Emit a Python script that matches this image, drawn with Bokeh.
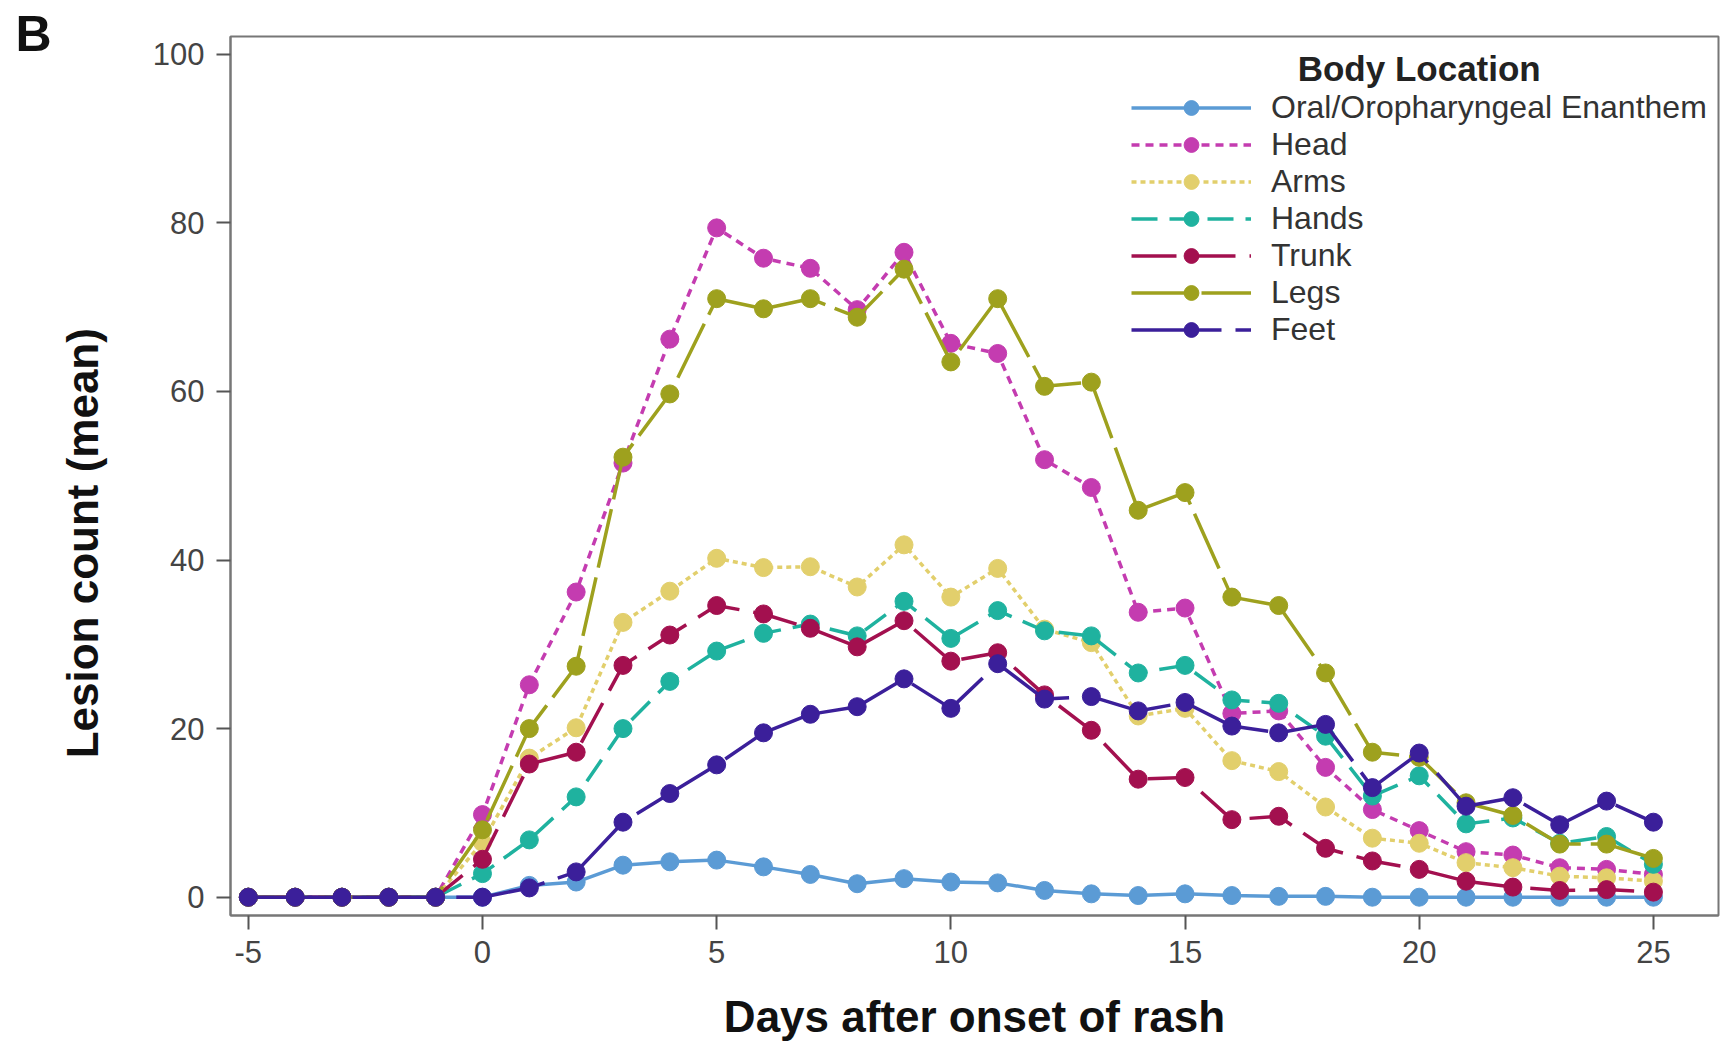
from bokeh.plotting import figure
from bokeh.models import Range1d, FixedTicker, Legend, LegendItem, Label
from bokeh.embed import file_html
from bokeh.resources import INLINE

days = list(range(-5, 26))

oral = [0, 0, 0, 0, 0, 0, 1.4, 1.8, 3.8, 4.2, 4.4, 3.6, 2.7, 1.6, 2.2, 1.8, 1.7, 0.8, 0.4, 0.2, 0.4,
        0.2, 0.1, 0.1, 0, 0, 0, 0, 0, 0, 0]
head = [0, 0, 0, 0, 0, 9.8, 25.2, 36.2, 51.5, 66.2, 79.4, 75.8, 74.6, 69.7, 76.5, 65.7, 64.5, 51.9, 48.6,
        33.8, 34.3, 21.8, 22.1, 15.4, 10.4, 7.9, 5.4, 5.0, 3.5, 3.3, 2.7]
arms = [0, 0, 0, 0, 0, 6.5, 16.5, 20.1, 32.6, 36.3, 40.2, 39.1, 39.2, 36.8, 41.8, 35.6, 39.0, 31.8, 30.2,
        21.5, 22.4, 16.2, 14.9, 10.7, 7.0, 6.4, 4.1, 3.5, 2.5, 2.3, 1.9]
hands = [0, 0, 0, 0, 0, 2.8, 6.8, 11.9, 20.0, 25.6, 29.2, 31.3, 32.4, 31.0, 35.1, 30.7, 34.0, 31.6, 31.0,
         26.6, 27.5, 23.4, 23.0, 19.1, 12.0, 14.4, 8.7, 9.4, 6.4, 7.2, 3.9]
trunk = [0, 0, 0, 0, 0, 4.5, 15.8, 17.2, 27.5, 31.1, 34.6, 33.6, 31.9, 29.7, 32.8, 28.0, 29.0, 24.0, 19.8,
         14.0, 14.2, 9.2, 9.6, 5.8, 4.3, 3.3, 1.9, 1.2, 0.8, 0.9, 0.6]
legs = [0, 0, 0, 0, 0, 8.0, 20.0, 27.4, 52.2, 59.7, 71.0, 69.8, 71.0, 68.8, 74.5, 63.5, 71.0, 60.6, 61.1,
        45.9, 48.0, 35.6, 34.6, 26.6, 17.2, 16.6, 11.2, 9.7, 6.3, 6.3, 4.6]
feet = [0, 0, 0, 0, 0, 0, 1.1, 3.0, 8.9, 12.3, 15.7, 19.5, 21.7, 22.6, 25.9, 22.4, 27.7, 23.5, 23.8,
        22.1, 23.1, 20.3, 19.5, 20.5, 13.0, 17.1, 10.8, 11.8, 8.6, 11.4, 8.9]

series_names = ["Oral/Oropharyngeal Enanthem", "Head", "Arms", "Hands", "Trunk", "Legs", "Feet"]
series_values = [oral, head, arms, hands, trunk, legs, feet]
colors = ["#5b9bd5", "#c43cb0", "#e2cf6c", "#1fb29f", "#a3104f", "#9ea11e", "#3b1f9a"]
dashes = ["solid", "8 6", "5 4", "26 12", "45 14", "60 10", "90 14"]

x_ticks = [-5, 0, 5, 10, 15, 20, 25]
y_ticks = [0, 20, 40, 60, 80, 100]

p = figure(width=1721, height=1043, output_backend="svg", toolbar_location=None,
           x_range=Range1d(-5.38, 26.39), y_range=Range1d(-2.17, 102.1),
           min_border_left=230, min_border_right=3, min_border_top=36, min_border_bottom=128)

p.title.text = "B"
p.title.align = "left"
p.title.offset = -215
p.title.standoff = -50
p.title.text_font = "Liberation Sans"
p.title.text_font_style = "bold"
p.title.text_font_size = "50px"
p.title.text_color = "#111111"

p.xgrid.visible = False
p.ygrid.visible = False
p.outline_line_color = "#777777"
p.outline_line_width = 2

p.xaxis.ticker = FixedTicker(ticks=x_ticks)
p.yaxis.ticker = FixedTicker(ticks=y_ticks)
p.xaxis.major_label_overrides = {t: str(t) for t in x_ticks}
for ax in (p.xaxis[0], p.yaxis[0]):
    ax.minor_tick_line_color = None
    ax.major_tick_in = 0
    ax.major_tick_out = 14
    ax.major_tick_line_color = "#555555"
    ax.major_tick_line_width = 2
    ax.axis_line_color = "#777777"
    ax.axis_line_width = 2
    ax.major_label_text_font = "Liberation Sans"
    ax.major_label_text_font_size = "31px"
    ax.major_label_text_color = "#444444"
    ax.axis_label_text_font = "Liberation Sans"
    ax.axis_label_text_font_style = "bold"
    ax.axis_label_text_font_size = "44px"
    ax.axis_label_text_color = "#111111"

p.xaxis.axis_label = "Days after onset of rash"
# trailing no-break spaces shift the rotated label downward, as in the original
p.yaxis.axis_label = "Lesion count (mean)" + "\u00a0" * 11
p.xaxis.major_label_standoff = 11
p.yaxis.major_label_standoff = 12
p.xaxis.axis_label_standoff = 26
p.yaxis.axis_label_standoff = 43

items = []
for name, vals, col, dash in zip(series_names, series_values, colors, dashes):
    lr = p.line(days, vals, line_color=col, line_width=3.5, line_dash=dash)
    sr = p.scatter(days, vals, size=18, marker="circle", fill_color=col, line_color=col)
    items.append(LegendItem(label=name, renderers=[lr, sr]))

legend = Legend(items=items, location=(899, 565), glyph_width=120, glyph_height=37,
                label_height=37, spacing=0, label_standoff=20, padding=2, margin=0,
                label_text_font="Liberation Sans", label_text_font_size="32px",
                label_text_color="#333333", border_line_alpha=0, background_fill_alpha=0)
p.add_layout(legend, "center")

p.add_layout(Label(x=20.0, y=98.3, text="Body Location", text_align="center", text_baseline="middle",
                   text_font="Liberation Sans", text_font_style="bold", text_font_size="35px",
                   text_color="#222222"))

open("out.html", "w").write(file_html(p, INLINE))
